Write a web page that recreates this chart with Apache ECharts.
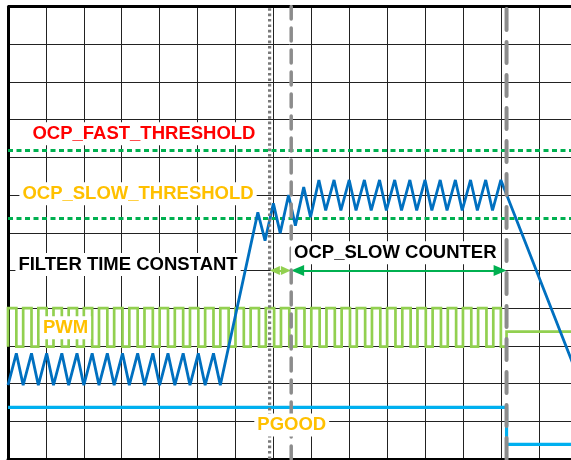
<!DOCTYPE html>
<html>
<head>
<meta charset="utf-8">
<script src="https://cdn.jsdelivr.net/npm/echarts@6/dist/echarts.min.js"></script>
<style>html,body{margin:0;padding:0;background:#fff}#c{width:571px;height:460px}</style>
</head>
<body>
<div id="c"></div>
<script>
// ---- data (x in grid divisions, y in grid divisions from bottom) ----
const currentPts = [
  [0,1.96],[0.22,2.80],[0.4,1.96],[0.62,2.80],[0.8,1.96],[1.02,2.80],[1.2,1.96],[1.42,2.80],
  [1.6,1.96],[1.82,2.80],[2.0,1.96],[2.22,2.80],[2.4,1.96],[2.62,2.80],[2.8,1.96],[3.02,2.80],
  [3.2,1.96],[3.42,2.80],[3.6,1.96],[3.82,2.80],[4.0,1.96],[4.22,2.80],[4.4,1.96],[4.62,2.80],
  [4.8,1.96],[5.02,2.80],[5.2,1.96],[5.42,2.80],[5.6,1.96],
  [6.59,6.54],[6.78,5.79],[7.0,6.78],[7.18,5.99],[7.4,7.0],[7.58,6.19],[7.8,7.21],[7.98,6.41],[8.2,7.40],
  [8.38,6.59],[8.6,7.40],[8.78,6.59],[9.0,7.40],[9.18,6.59],[9.4,7.40],[9.58,6.59],[9.8,7.40],
  [9.98,6.59],[10.2,7.40],[10.38,6.59],[10.6,7.40],[10.78,6.59],[11.0,7.40],[11.18,6.59],[11.4,7.40],
  [11.58,6.59],[11.8,7.40],[11.98,6.59],[12.2,7.40],[12.38,6.59],[12.6,7.40],[12.78,6.59],[13.0,7.40],
  [15,2.27]
];
const pwmRise = [0,0.4,0.8,1.2,1.6,2.0,2.4,2.8,3.2,3.6,4.0,4.4,4.8,5.2,5.6,6.0,6.4,6.8,7.2,7.6,8.0,8.4,8.8,9.2,9.6,10.0,10.4,10.8,11.2,11.6,12.0,12.4,12.8];
const pwmFall = [0.22,0.62,1.02,1.42,1.82,2.22,2.62,3.02,3.42,3.82,4.22,4.62,5.02,5.42,5.82,6.22,6.62,7.02,7.42,7.82,8.22,8.62,9.02,9.42,9.82,10.22,10.62,11.02,11.42,11.82,12.22,12.62,13.0];
const pwmLevels = {low: 2.98, high: 4.0, idle: 3.38};
const faultTime = 13.15;
const pgoodLevels = {high: 1.37, low: 0.39};
const thresholds = {fast: 8.18, slow: 6.38};
const markerTimes = {filterStart: 6.90, counterStart: 7.47, counterEnd: 13.15};
const arrowY = 5.0;
const labels = [
  {text: 'OCP_FAST_THRESHOLD', x: 3.586, y: 8.626, color: '#FF0000'},
  {text: 'OCP_SLOW_THRESHOLD', x: 3.430, y: 7.037, color: '#FFC000'},
  {text: 'FILTER TIME CONSTANT', x: 3.166, y: 5.159, color: '#000000'},
  {text: 'OCP_SLOW COUNTER', x: 10.215, y: 5.472, color: '#000000'},
  {text: 'PWM', x: 1.517, y: 3.483, color: '#FFC000'},
  {text: 'PGOOD', x: 7.484, y: 0.902, color: '#FFC000'}
];
const X_MAX = 15, X_VIEW = 14.85, Y_MAX = 12;

// ---- build step traces from the read edges ----
const pwmPts = [[0, pwmLevels.low]];
for (let i = 0; i < pwmRise.length; i++) {
  pwmPts.push([pwmRise[i], pwmLevels.low], [pwmRise[i], pwmLevels.high],
              [pwmFall[i], pwmLevels.high], [pwmFall[i], pwmLevels.low]);
}
pwmPts.push([faultTime, pwmLevels.low], [faultTime, pwmLevels.idle], [X_MAX, pwmLevels.idle]);

const pgoodPts = [[0, pgoodLevels.high], [faultTime, pgoodLevels.high],
                  [faultTime, pgoodLevels.low], [X_MAX, pgoodLevels.low]];

function hLine(y, style, z, clip) {
  return {type: 'line', data: [[0, y], [X_MAX, y]], symbol: 'none', silent: true,
          lineStyle: style, z: z, clip: clip !== false};
}
function vLine(x, style, z) {
  return {type: 'line', data: [[x, 0], [x, Y_MAX]], symbol: 'none', silent: true,
          lineStyle: style, z: z};
}

const chart = echarts.init(document.getElementById('c'), null, {renderer: 'canvas'});
const fontFam = '"Liberation Sans", Arial, sans-serif';

chart.setOption({
  animation: false,
  backgroundColor: '#fff',
  grid: {left: 8, top: 6.5, right: 0, bottom: 1, show: false, outerBoundsMode: 'none', containLabel: false},
  xAxis: {type: 'value', min: 0, max: X_VIEW, interval: 1,
          axisLine: {show: true, onZero: false, lineStyle: {color: '#000', width: 3}},
          axisTick: {show: false}, axisLabel: {show: false},
          splitLine: {show: true, lineStyle: {color: '#222', width: 1}}},
  yAxis: {type: 'value', min: 0, max: Y_MAX, interval: 1,
          axisLine: {show: true, onZero: false, lineStyle: {color: '#000', width: 3}},
          axisTick: {show: false}, axisLabel: {show: false},
          splitLine: {show: true, lineStyle: {color: '#222', width: 1}}},
  series: [
    hLine(Y_MAX, {color: '#000', width: 3}, 2, false),
    // PWM
    {type: 'line', data: pwmPts, symbol: 'none', z: 3,
     lineStyle: {color: '#92D050', width: 2.7, join: 'miter'}},
    // PGOOD
    {type: 'line', data: pgoodPts, symbol: 'none', z: 3,
     lineStyle: {color: '#00B0F0', width: 3.2}},
    // thresholds
    hLine(thresholds.fast, {color: '#00B050', width: 3, type: [5, 3.5]}, 4),
    hLine(thresholds.slow, {color: '#00B050', width: 3, type: [5, 3.5]}, 4),
    // inductor current
    {type: 'line', data: currentPts, symbol: 'none', z: 5,
     lineStyle: {color: '#0070C0', width: 2.8}},
    // vertical markers
    vLine(markerTimes.filterStart, {color: '#7a7a7a', width: 3.2, type: [2.6, 2.8], cap: 'butt'}, 6),
    vLine(markerTimes.counterStart, {color: '#8c8c8c', width: 3.5, type: [13, 9], cap: 'round'}, 6),
    vLine(markerTimes.counterEnd, {color: '#8c8c8c', width: 4, type: [21, 12], cap: 'round'}, 6),
    // arrows
    {type: 'line', data: [], z: 9, silent: true,
     markLine: {silent: true, animation: false, label: {show: false},
       data: [
         [{coord: [markerTimes.filterStart + 0.14, arrowY], symbol: 'triangle', symbolSize: [9, 10],
           lineStyle: {color: '#92D050', width: 2, type: 'solid'}},
          {coord: [markerTimes.counterStart - 0.14, arrowY], symbol: 'triangle', symbolSize: [9, 10]}],
         [{coord: [markerTimes.counterStart + 0.17, arrowY], symbol: 'triangle', symbolSize: [11, 13],
           lineStyle: {color: '#00B050', width: 2, type: 'solid'}},
          {coord: [markerTimes.counterEnd - 0.17, arrowY], symbol: 'triangle', symbolSize: [11, 13]}]
       ]}}
  ]
});

// text labels placed through the chart's own coordinate conversion
const textEls = labels.map(l => {
  const p = chart.convertToPixel({gridIndex: 0}, [l.x, l.y]);
  return {type: 'text', x: p[0], y: p[1], z: 100, silent: true,
          style: {text: l.text, fill: l.color, align: 'center', verticalAlign: 'middle',
                  font: 'bold 18.5px ' + fontFam, backgroundColor: '#fff', padding: [2, 3]}};
});
chart.setOption({graphic: {elements: textEls}});
</script>
</body>
</html>
